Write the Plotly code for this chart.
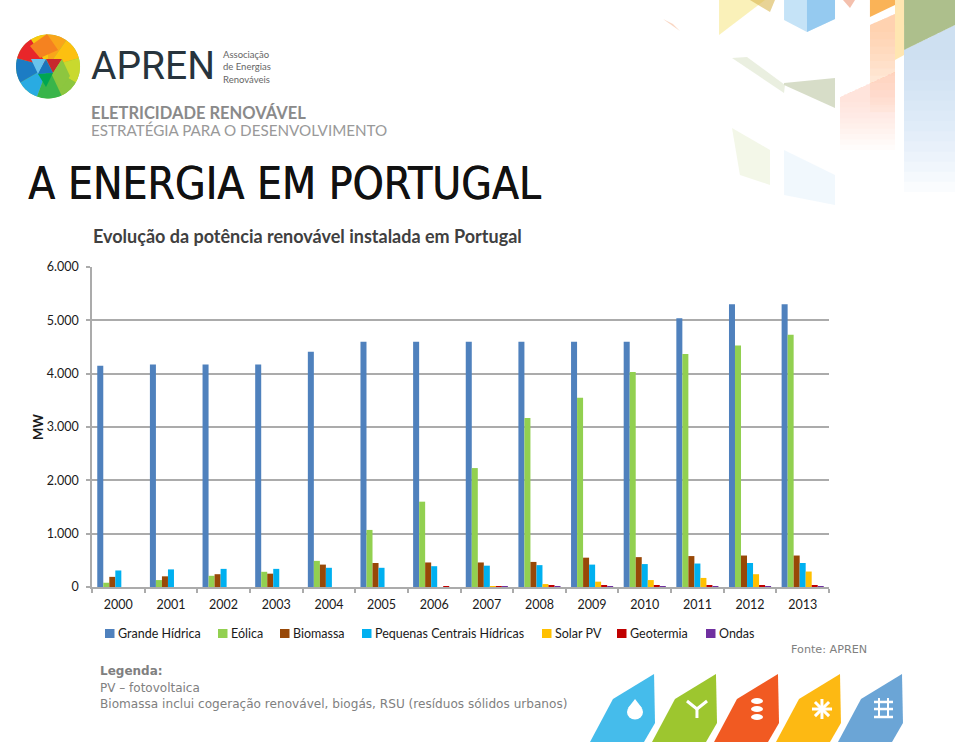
import math
import plotly.graph_objects as go

W, H = 960, 744
L, R, T, B = 92, 829, 267, 587

years = ["2000","2001","2002","2003","2004","2005","2006","2007","2008","2009","2010","2011","2012","2013"]
grande_hidrica = [4150,4170,4170,4170,4410,4600,4600,4600,4600,4600,4600,5040,5300,5300]
eolica = [80,130,210,285,490,1070,1600,2230,3170,3550,4030,4370,4530,4730]
biomassa = [190,200,240,250,420,450,460,460,470,550,560,580,590,590]
pch = [310,330,340,340,360,360,390,400,410,420,430,440,450,450]
solar = [0,0,0,0,0,0,0,10,55,100,130,170,240,290]
geotermia = [0,0,0,0,0,0,16,16,20,25,25,25,25,25]
ondas = [0,0,0,0,0,0,0,2,2,2,2,2,2,2]
series_names = ["Grande Hídrica","Eólica","Biomassa","Pequenas Centrais Hídricas","Solar PV","Geotermia","Ondas"]
series_values = [grande_hidrica, eolica, biomassa, pch, solar, geotermia, ondas]
series_colors = ["#4F81BD","#92D050","#984807","#00B0F0","#FFC000","#C00000","#7030A0"]
y_ticks = [0,1000,2000,3000,4000,5000,6000]
y_labels = ["0","1.000","2.000","3.000","4.000","5.000","6.000"]

fig = go.Figure()
for n, v, c in zip(series_names, series_values, series_colors):
    fig.add_bar(x=years, y=v, name=n, marker=dict(color=c, line_width=0))

def px(x): return x / W
def py(y): return 1 - y / H
def poly(pts, color, opacity=1):
    d = "M" + " L".join(f"{px(x):.4f},{py(y):.4f}" for x, y in pts) + " Z"
    return dict(type="path", xref="paper", yref="paper", path=d, fillcolor=color,
                opacity=opacity, line_width=0, layer="below")
def stroke(pts, color="white", width=2.5):
    d = "M" + " L".join(f"{px(x):.4f},{py(y):.4f}" for x, y in pts)
    return dict(type="path", xref="paper", yref="paper", path=d, line=dict(color=color, width=width), layer="below")
def oval(cx, cy, rx, ry, color):
    return dict(type="circle", xref="paper", yref="paper", x0=px(cx-rx), x1=px(cx+rx),
                y0=py(cy+ry), y1=py(cy-ry), fillcolor=color, line_width=0, layer="below")
def text(x, y, s, size, color, family="DejaVu Sans", xanchor="left", shadow=None):
    f = dict(size=size, color=color, family=family)
    if shadow:
        f["shadow"] = shadow
    fig.add_annotation(x=px(x), y=py(y), xref="paper", yref="paper", text=s, showarrow=False,
                       xanchor=xanchor, yanchor="middle", align="left", borderpad=0, font=f)

shapes = []
# decorative mosaic, top right
def fade(pts_top, color, top_op_steps, bottom, op):
    xs = [p[0] for p in pts_top]
    start = max(p[1] for p in pts_top)
    for i in range(1, top_op_steps + 1):
        b = start + (bottom - start) * i / top_op_steps
        shapes.append(poly(pts_top + [(max(xs), b), (min(xs), b)], color, op))
fade([(904,50),(955,25)], "#BBD9F2", 14, 192, .07)
fade([(870,25),(895,14)], "#FFB27A", 12, 112, .07)
fade([(840,97),(895,72)], "#F9C9B5", 10, 150, .05)
shapes += [
    poly([(904,0),(955,0),(955,25),(904,50)], "#A9BC86", .95),
    poly([(895,0),(904,0),(904,55),(895,60)], "#FFE3A8", .9),
    poly([(870,0),(895,0),(895,5),(870,17)], "#F9A63A", .85),
    poly([(843,0),(855,0),(850,8)], "#F3B9A4", .9),
    poly([(784,0),(835,0),(835,19),(807,32),(784,20)], "#BFE0F6", .9),
    poly([(807,0),(835,0),(835,19),(807,32)], "#8CC6EE", .85),
    poly([(719,0),(765,0),(719,35)], "#F9EDA8", .8),
    poly([(750,0),(775,0),(770,12)], "#D9B650", .6),
    poly([(663,19),(673,24),(680,31),(670,24)], "#F8CDB4", .8),
    poly([(732,58),(747,57),(785,85),(784,93)], "#D9E2C6", .55),
    poly([(784,83),(835,78),(835,108),(784,85)], "#C6CFB0", .7),
    poly([(732,128),(770,150),(770,185),(740,175)], "#EEF3DE", .7),
    poly([(784,150),(835,175),(835,205),(784,195)], "#EEF6FD", .8),
]

# logo mosaic
cx, cy, r = 48, 66.5, 32
shapes.append(oval(cx, cy, r, r, "#8CC63F"))
def wedge(a0, a1, color):
    pts = [(cx, cy)]
    steps = 10
    for i in range(steps + 1):
        a = math.radians(a0 + (a1 - a0) * i / steps)
        pts.append((cx + r*math.cos(a), cy + r*math.sin(a)))
    return poly(pts, color)
for a0, a1, c in [(-90,-55,"#F9A51A"),(-55,-15,"#FDC010"),(-15,30,"#C9D92E"),(30,65,"#8CC63F"),
                  (65,110,"#39B54A"),(110,150,"#29ABE2"),(150,195,"#1C7CC4"),(195,238,"#E8262A"),(238,270,"#F9C80E")]:
    shapes.append(wedge(a0, a1, c))
shapes += [
    poly([(30,46),(47,34),(58,50),(40,58)], "#F58220"),
    poly([(31,59),(46,59),(38,74)], "#69C3EC"),
    poly([(46,59),(62,59),(53,73)], "#C7282E"),
    poly([(38,74),(46,59),(53,73)], "#1B75BC"),
    poly([(38,74),(53,73),(46,87)], "#00A651"),
    poly([(53,73),(62,59),(70,76),(60,90)], "#8DC63F"),
]

# bottom tiles
x0s = [590, 652, 714, 776, 838]
pcolors = ["#45BCEB", "#9DC62F", "#F15A22", "#FDB913", "#6BA5D6"]
for x, c in zip(x0s, pcolors):
    shapes.append(poly([(x,742),(x+23,699),(x+64,674),(x+65,723),(x+54,742)], c))
shapes += [oval(635, 712, 8, 7.5, "white"), poly([(628,708),(635,699),(642,708)], "white")]
shapes += [stroke([(687,701),(697,709),(707,701)], "white", 3), stroke([(697,709),(697,718)], "white", 3)]
for yy in (701, 709, 717):
    shapes.append(oval(757, yy, 6, 3, "white"))
for a in range(0, 180, 45):
    dx, dy = 10*math.cos(math.radians(a)), 10*math.sin(math.radians(a))
    shapes.append(stroke([(822-dx, 709-dy), (822+dx, 709+dy)], "white", 3))
for yy in (702, 709, 717):
    shapes.append(stroke([(874,yy),(893,yy)], "white", 2.5))
for xx in (879, 888):
    shapes.append(stroke([(xx,698),(xx,717)], "white", 2))

# legend keys
leg_sw = [105, 218, 280, 362, 542, 617, 706]
leg_tx = [117, 230, 292, 374, 554, 629, 718]
for sx, c in zip(leg_sw, series_colors):
    shapes.append(dict(type="rect", xref="paper", yref="paper", x0=px(sx), x1=px(sx+9.5),
                       y0=py(638), y1=py(629), fillcolor=c, line_width=0))

fig.update_layout(
    width=W, height=H, autosize=False,
    margin=dict(l=0, r=0, t=0, b=0, autoexpand=False),
    paper_bgcolor="white", plot_bgcolor="rgba(0,0,0,0)",
    barmode="group", bargap=0.2, bargroupgap=0,
    font=dict(family="Lato", color="#111111", size=12),
    shapes=shapes, showlegend=False,
    xaxis=dict(domain=[px(L), px(R)], type="category", showgrid=False, ticks="outside", ticklen=4,
               tickson="boundaries", tickcolor="#ABABAB", tickwidth=1.5, ticklabelstandoff=5,
               showline=True, linecolor="#ABABAB", linewidth=1.5,
               tickfont=dict(size=12.5, family="Lato", color="#1A1A1A")),
    yaxis=dict(domain=[py(B), py(T)], range=[0, 6000], tickvals=y_ticks, ticktext=y_labels,
               gridcolor="#ABABAB", gridwidth=1.5, showline=True, linecolor="#ABABAB", linewidth=1.5,
               ticks="outside", ticklen=4, tickcolor="#ABABAB", tickwidth=1.5, ticklabelstandoff=5,
               tickfont=dict(size=12.5, family="Lato", color="#1A1A1A"), zeroline=False,
               title=dict(text="<b>MW</b>", font=dict(size=13, family="Lato", color="#1A1A1A"), standoff=0)),
)

for tx, n in zip(leg_tx, series_names):
    text(tx, 633.5, n, 12.5, "#1A1A1A", "Lato")

text(90, 66, "APREN", 39, "#27343D", "Roboto")
text(222, 67, "Associação<br>de Energias<br>Renováveis", 9.5, "#666666", "Lato")
text(90, 120.5, "<span style='font-size:16.5px;color:#8A8A8A'><b>ELETRICIDADE RENOVÁVEL</b></span><br>"
                "<span style='font-size:15.2px;color:#999999'>ESTRATÉGIA PARA O DESENVOLVIMENTO</span>", 13, "#999999", "Lato")
text(27, 183, "A ENERGIA EM PORTUGAL", 44, "#111111", "DejaVu Sans Condensed", shadow="0.6px 0 0 #111111")
text(92, 236, "<b>Evolução da potência renovável instalada em Portugal</b>", 18, "#404040", "Lato")
text(790, 649, "Fonte: APREN", 11.2, "#808080", "DejaVu Sans")
text(99, 671, "<b>Legenda:</b>", 12, "#808080", "DejaVu Sans")
text(99, 688, "PV – fotovoltaica", 12, "#808080", "DejaVu Sans")
text(99, 704, "Biomassa inclui cogeração renovável, biogás, RSU (resíduos sólidos urbanos)", 12.1, "#808080", "DejaVu Sans")

fig.write_html("out.html", config={"displayModeBar": False}, post_script="document.body.style.margin='0';")
